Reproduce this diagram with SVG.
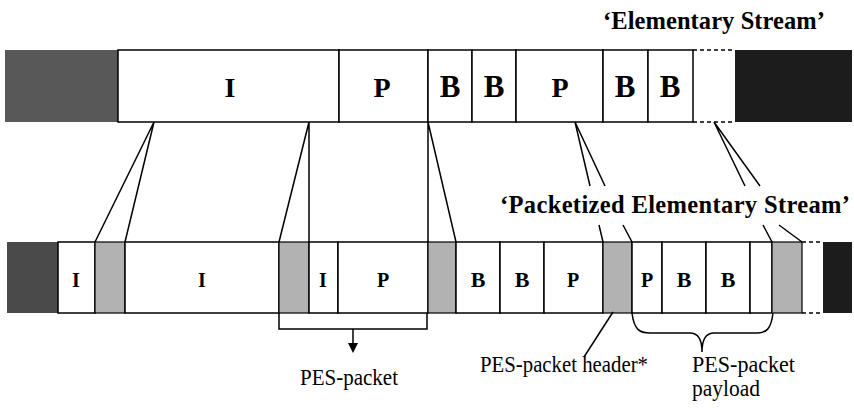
<svg xmlns="http://www.w3.org/2000/svg" width="854" height="410" viewBox="0 0 854 410">
<style>
.ln{stroke:#000;stroke-width:1.5;fill:none}
.dash{stroke:#000;stroke-width:1.5;stroke-dasharray:4 3;fill:none}
.cell{fill:#fff;stroke:#000;stroke-width:1.5}
.hdr{fill:#b2b2b2;stroke:#000;stroke-width:1.2}
.big{font-family:"Liberation Serif",serif;font-weight:bold;font-size:28px;text-anchor:middle}
.bigB{font-size:31px}
.sm{font-family:"Liberation Serif",serif;font-weight:bold;font-size:20px;text-anchor:middle}
.smB{font-size:22px}
.ttl{font-family:"Liberation Serif",serif;font-weight:bold;font-size:24.5px}
.lbl{font-family:"Liberation Serif",serif;font-size:23px}
</style>
<rect width="854" height="410" fill="#fff"/>
<text class="ttl" x="603" y="29" textLength="222" lengthAdjust="spacing">‘Elementary Stream’</text>
<text class="ttl" x="500" y="213" textLength="350" lengthAdjust="spacing">‘Packetized Elementary Stream’</text>

<g id="es">
<rect x="5" y="50" width="113" height="72" fill="#585858"/>
<rect x="735" y="50" width="117" height="72" fill="#1c1c1c"/>
<g id="es-I"><rect class="cell" x="118" y="50" width="221" height="72"/><text class="big" x="230" y="97">I</text></g>
<g id="es-P1"><rect class="cell" x="339" y="50" width="89" height="72"/><text class="big" x="382" y="97">P</text></g>
<g id="es-B1"><rect class="cell" x="428" y="50" width="44" height="72"/><text class="big bigB" x="450" y="97">B</text></g>
<g id="es-B2"><rect class="cell" x="472" y="50" width="44" height="72"/><text class="big bigB" x="494" y="97">B</text></g>
<g id="es-P2"><rect class="cell" x="516" y="50" width="87" height="72"/><text class="big" x="560" y="97">P</text></g>
<g id="es-B3"><rect class="cell" x="603" y="50" width="45" height="72"/><text class="big bigB" x="625" y="97">B</text></g>
<g id="es-B4"><rect class="cell" x="648" y="50" width="45" height="72"/><text class="big bigB" x="670" y="97">B</text></g>
<line class="dash" x1="693" y1="50" x2="735" y2="50"/>
<line class="dash" x1="693" y1="122" x2="735" y2="122"/>
</g>

<g id="pes">
<rect x="7" y="242" width="51" height="71" fill="#4a4a4a"/>
<rect x="823" y="242" width="29" height="71" fill="#1c1c1c"/>
<g id="pes-I1"><rect class="cell" x="58" y="242" width="37" height="71"/><text class="sm" x="76" y="287">I</text></g>
<g id="pes-h1"><rect class="hdr" x="95" y="242" width="30" height="71"/></g>
<g id="pes-I2"><rect class="cell" x="125" y="242" width="154" height="71"/><text class="sm" x="202" y="287">I</text></g>
<g id="pes-h2"><rect class="hdr" x="279" y="242" width="30" height="71"/></g>
<g id="pes-I3"><rect class="cell" x="309" y="242" width="29" height="71"/><text class="sm" x="323" y="287">I</text></g>
<g id="pes-P1"><rect class="cell" x="338" y="242" width="90" height="71"/><text class="sm" x="383" y="287">P</text></g>
<g id="pes-h3"><rect class="hdr" x="428" y="242" width="28" height="71"/></g>
<g id="pes-B1"><rect class="cell" x="456" y="242" width="44" height="71"/><text class="sm smB" x="478" y="287">B</text></g>
<g id="pes-B2"><rect class="cell" x="500" y="242" width="44" height="71"/><text class="sm smB" x="522" y="287">B</text></g>
<g id="pes-P2"><rect class="cell" x="544" y="242" width="59" height="71"/><text class="sm" x="573" y="287">P</text></g>
<g id="pes-h4"><rect class="hdr" x="603" y="242" width="29" height="71"/></g>
<g id="pes-P3"><rect class="cell" x="632" y="242" width="30" height="71"/><text class="sm" x="647" y="287">P</text></g>
<g id="pes-B3"><rect class="cell" x="662" y="242" width="44" height="71"/><text class="sm smB" x="684" y="287">B</text></g>
<g id="pes-B4"><rect class="cell" x="706" y="242" width="44" height="71"/><text class="sm smB" x="728" y="287">B</text></g>
<g id="pes-x"><rect class="cell" x="750" y="242" width="22" height="71"/></g>
<g id="pes-h5"><rect class="hdr" x="772" y="242" width="30" height="71"/></g>
<line class="dash" x1="802" y1="242" x2="823" y2="242"/>
<line class="dash" x1="802" y1="313" x2="823" y2="313"/>
</g>

<g id="connectors">
<path class="ln" d="M154,122 L95,242 M154,122 L125,242"/>
<path class="ln" d="M309,122 L279,242 M309,122 L309,242"/>
<path class="ln" d="M428,122 L428,242 M428,122 L456,242"/>
<path class="ln" d="M575,122 L590,186 M575,122 L605,186 M599,225 L603,242 M623,225 L632,242"/>
<path class="ln" d="M714,122 L745,186 M714,122 L760,186 M763,225 L772,242 M779,225 L802,242"/>
<path class="ln" d="M279,313 L279,329 L427,329 L427,313"/>
<line class="ln" x1="353" y1="329" x2="353" y2="344"/>
<polygon points="348,343 358,343 353,353" fill="#000"/>
<path class="ln" d="M632,313 C634,330 640,333 650,333 L690,333 C698,333 702,340 702,352 C702,340 706,333 714,333 L756,333 C766,333 771,330 773,313"/>
<line class="ln" x1="613" y1="312" x2="584" y2="357"/>
</g>

<g id="labels">
<text class="lbl" x="300" y="385" textLength="98" lengthAdjust="spacingAndGlyphs">PES-packet</text>
<text class="lbl" x="480" y="372" textLength="168" lengthAdjust="spacingAndGlyphs">PES-packet header*</text>
<text class="lbl" x="692" y="372" textLength="103" lengthAdjust="spacingAndGlyphs">PES-packet</text>
<text class="lbl" x="692" y="396" textLength="68" lengthAdjust="spacingAndGlyphs">payload</text>
</g>
</svg>
